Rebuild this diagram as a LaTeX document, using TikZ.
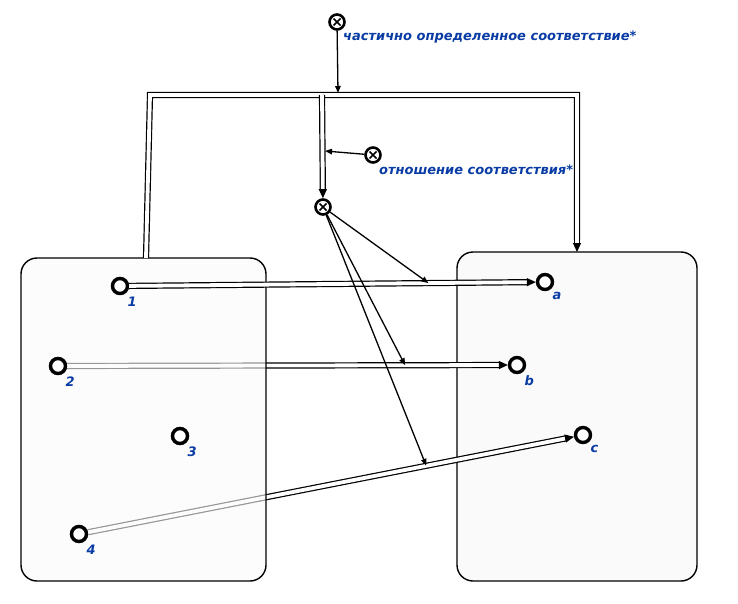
\documentclass[tikz,border=0pt]{standalone}
\usepackage{fontspec}
\usepackage{tikz}
\usetikzlibrary{positioning,arrows.meta}
\newfontfamily\lblfont{DejaVu Sans}
\definecolor{lblblue}{RGB}{10,60,165}
\definecolor{boxfill}{RGB}{250,250,250}

\tikzset{
  elem/.style={circle,draw=black,line width=3.4pt,fill=white,minimum size=15pt,inner sep=0pt},
  xnode/.style={circle,draw=black,line width=2.6pt,fill=white,minimum size=15pt,inner sep=0pt,
    path picture={\draw[line width=1.5pt] (path picture bounding box.north west)++(4pt,-4pt) -- ++(7pt,-7pt)
      (path picture bounding box.north east)++(-4pt,-4pt) -- ++(-7pt,-7pt);}},
  lbl/.style={font=\lblfont\bfseries\itshape\fontsize{13}{15}\selectfont,text=lblblue,inner sep=1pt},
  dbl/.style={draw=black,double=white,double distance=3.8pt,line width=1.2pt},
  dblarrow/.style={dbl,-{Triangle[length=9pt,width=8pt]}},
  conn/.style={line width=1.3pt,-{Triangle[length=7pt,width=5.5pt]}},
  setbox/.style={draw=black,line width=1.4pt,rounded corners=16pt,fill=boxfill}
}

\begin{document}
\begin{tikzpicture}[x=1pt,y=-1pt]
  \useasboundingbox (0,0) rectangle (738,604);

  % right set first, the pairs run over it
  \draw[setbox] (457,252) rectangle (697,581);

  % elements of the two sets
  \node[elem] (p1) at (120,286) {};
  \node[elem] (p2) at (58,366) {};
  \node[elem] (p3) at (180,436) {};
  \node[elem] (p4) at (79,534) {};
  \node[elem] (pa) at (545,282) {};
  \node[elem] (pb) at (517,365) {};
  \node[elem] (pc) at (583,435) {};

  % pairs that pass under the left box
  \draw[dblarrow] (p2) -- (pb);
  \draw[dblarrow] (p4) -- (pc);

  % left set, half see-through
  \draw[setbox,fill opacity=0.6] (21,258) rectangle (266,581);

  % left elements again, on top of the box
  \node[elem] at (p1) {};
  \node[elem] at (p2) {};
  \node[elem] at (p3) {};
  \node[elem] at (p4) {};

  \draw[dblarrow] (p1) -- (pa);

  % labels
  \node[lbl,below right=3pt and 0pt of p1] {1};
  \node[lbl,below right=3pt and 0pt of p2] {2};
  \node[lbl,below right=3pt and 0pt of p3] {3};
  \node[lbl,below right=3pt and 0pt of p4] {4};
  \node[lbl,below right=3pt and 0pt of pa] {a};
  \node[lbl,below right=3pt and 0pt of pb] {b};
  \node[lbl,below right=3pt and 0pt of pc] {c};

  % frame of the correspondence
  \coordinate (fl) at (146,258);
  \coordinate (fr) at (577,252);
  \coordinate (ftop) at (338,93);
  \coordinate (fbr) at (322,95);
  \draw[dbl] (fl) -- (150,95) -- (577,95) -- (577,240);
  \draw[dblarrow] (577,235) -- (fr);

  \node[xnode] (corr) at (337,22) {};
  \node[lbl,anchor=west] (corrlbl) at (342,37) {частично определенное соответствие*};
  \draw[conn] (corr) -- (ftop);

  \node[xnode] (rel) at (323,207) {};
  \draw[dblarrow] (fbr) -- (rel);

  \node[xnode] (mapn) at (373,155) {};
  \node[lbl,anchor=west] (mapnlbl) at (378,170) {отношение соответствия*};
  \coordinate (fmid) at (325,151);
  \draw[conn] (mapn) -- (fmid);

  % links from the relation to the pairs
  \path (p1) -- (pa) coordinate[pos=0.736] (h1);
  \path (p2) -- (pb) coordinate[pos=0.767] (h2);
  \path (p4) -- (pc) coordinate[pos=0.696] (h4);
  \draw[conn] (rel) -- (h1);
  \draw[conn] (rel) -- (h2);
  \draw[conn] (rel) -- (h4);
\end{tikzpicture}
\end{document}
